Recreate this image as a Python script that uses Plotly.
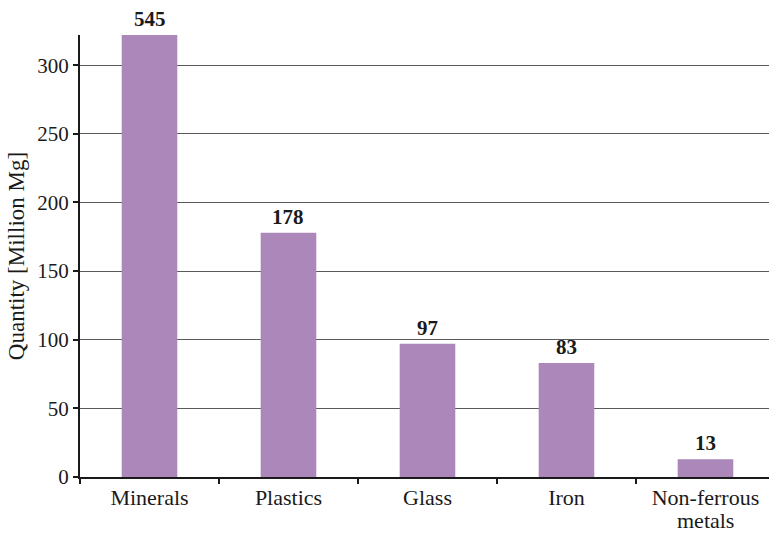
import plotly.graph_objects as go

categories = ["Minerals", "Plastics", "Glass", "Iron", "Non-ferrous"]
second_lines = ["", "", "", "", "metals"]
values = [545, 178, 97, 83, 13]
labels = ["545", "178", "97", "83", "13"]
y_ticks = [0, 50, 100, 150, 200, 250, 300]

YMAX = 322
BAR_COLOR = "#ab87ba"
FONT = "Liberation Serif"
TXT = "#1a1a1a"

fig = go.Figure()
fig.add_trace(go.Bar(
    x=categories, y=values, marker_color=BAR_COLOR, width=0.4,
    marker_line_width=0, hoverinfo="skip",
))

for c, v, t in zip(categories, values, labels):
    fig.add_annotation(
        x=c, y=min(v, YMAX), text="<b>%s</b>" % t, showarrow=False,
        yanchor="bottom", yshift=2,
        font=dict(family=FONT, size=21, color=TXT),
    )

for c, s in zip(categories, second_lines):
    if s:
        fig.add_annotation(
            x=c, xref="x", y=0, yref="paper", text=s, showarrow=False,
            yanchor="top", yshift=-29,
            font=dict(family=FONT, size=22, color=TXT),
        )

fig.update_layout(
    width=769, height=534,
    margin=dict(l=80, r=0, t=35, b=57),
    paper_bgcolor="white", plot_bgcolor="white",
    showlegend=False,
    font=dict(family=FONT, size=21, color=TXT),
    xaxis=dict(
        range=[-0.5, 4.457], tickson="boundaries",
        ticks="outside", ticklen=5, tickcolor=TXT, tickwidth=1.5,
        showline=True, linecolor=TXT, linewidth=2,
        showgrid=False, tickfont=dict(family=FONT, size=22, color=TXT),
    ),
    yaxis=dict(
        range=[0, YMAX], tickvals=y_ticks,
        ticks="outside", ticklen=5, tickcolor=TXT, tickwidth=1.5,
        showline=True, linecolor=TXT, linewidth=2,
        showgrid=True, gridcolor="#5a5a5a", gridwidth=1.2,
        zeroline=False,
        tickfont=dict(family=FONT, size=21, color=TXT),
        title=dict(text="Quantity [Million Mg]", font=dict(family=FONT, size=23, color=TXT), standoff=6),
    ),
)

fig.write_html("out.html")
